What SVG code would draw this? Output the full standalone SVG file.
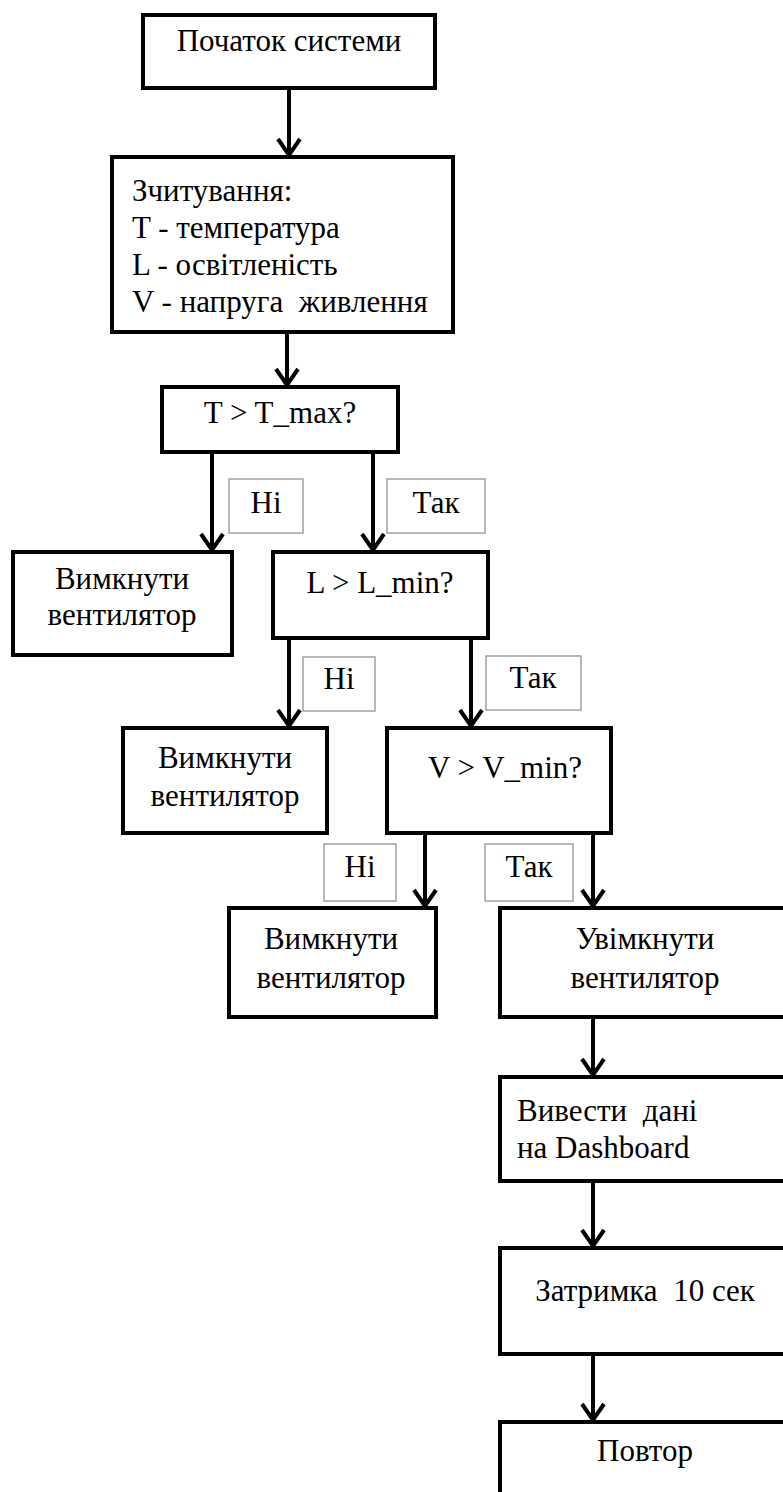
<svg xmlns="http://www.w3.org/2000/svg" width="783" height="1492" viewBox="0 0 783 1492">
<style>
.box{fill:#fff;stroke:#000;stroke-width:4}
.lbl{fill:#fff;stroke:#a0a0a0;stroke-width:1.5}
.t{font-family:'Liberation Serif',Tinos,'DejaVu Serif',serif;font-size:31px;fill:#000}
.c{text-anchor:middle}
.conn{stroke:#000;stroke-width:4;fill:none;marker-end:url(#ah)}
</style>
<defs>
<marker id="ah" markerUnits="userSpaceOnUse" viewBox="-20 -16 24 32" refX="0" refY="0" markerWidth="24" markerHeight="32" orient="auto">
<path d="M-16,-11 L0,0 L-16,11" fill="none" stroke="#000" stroke-width="4"/>
</marker>
</defs>
<rect width="783" height="1492" fill="#fff"/>
<g id="connectors">
<line class="conn" x1="289" y1="88" x2="289" y2="155"/>
<line class="conn" x1="287" y1="332" x2="287" y2="385"/>
<line class="conn" x1="212" y1="452" x2="212" y2="550"/>
<line class="conn" x1="373" y1="452" x2="373" y2="550"/>
<line class="conn" x1="289" y1="638" x2="289" y2="726"/>
<line class="conn" x1="471" y1="638" x2="471" y2="726"/>
<line class="conn" x1="425" y1="833" x2="425" y2="906"/>
<line class="conn" x1="593" y1="833" x2="593" y2="906"/>
<line class="conn" x1="593" y1="1017" x2="593" y2="1075"/>
<line class="conn" x1="593" y1="1181" x2="593" y2="1246"/>
<line class="conn" x1="593" y1="1354" x2="593" y2="1420"/>
</g>
<g id="lbl1"><rect class="lbl" x="229" y="479" width="74" height="54"/><text class="t c" x="266" y="513">Ні</text></g>
<g id="lbl2"><rect class="lbl" x="387" y="479" width="98" height="54"/><text class="t c" x="436" y="513">Так</text></g>
<g id="lbl3"><rect class="lbl" x="303" y="657" width="72" height="54"/><text class="t c" x="339" y="689">Ні</text></g>
<g id="lbl4"><rect class="lbl" x="486" y="656" width="95" height="54"/><text class="t c" x="533" y="688">Так</text></g>
<g id="lbl5"><rect class="lbl" x="324" y="844" width="72" height="57"/><text class="t c" x="360" y="877">Ні</text></g>
<g id="lbl6"><rect class="lbl" x="485" y="844" width="88" height="57"/><text class="t c" x="529" y="877">Так</text></g>
<g id="start"><rect class="box" x="143" y="15" width="292" height="73"/><text class="t c" x="289" y="51">Початок системи</text></g>
<g id="read"><rect class="box" x="112" y="157" width="341" height="175"/>
<text class="t" x="132" y="201">Зчитування:</text>
<text class="t" x="132" y="238">T - температура</text>
<text class="t" x="132" y="275">L - освітленість</text>
<text class="t" x="132" y="312" xml:space="preserve">V - напруга  живлення</text></g>
<g id="condT"><rect class="box" x="162" y="387" width="236" height="65"/><text class="t c" x="280" y="423">T &gt; T_max?</text></g>
<g id="off1"><rect class="box" x="13" y="552" width="219" height="103"/><text class="t c" x="122" y="589">Вимкнути</text><text class="t c" x="122" y="625">вентилятор</text></g>
<g id="condL"><rect class="box" x="273" y="552" width="215" height="86"/><text class="t c" x="380" y="593">L &gt; L_min?</text></g>
<g id="off2"><rect class="box" x="123" y="728" width="204" height="105"/><text class="t c" x="225" y="768">Вимкнути</text><text class="t c" x="225" y="806">вентилятор</text></g>
<g id="condV"><rect class="box" x="387" y="728" width="224" height="105"/><text class="t c" x="505" y="778">V &gt; V_min?</text></g>
<g id="off3"><rect class="box" x="229" y="908" width="207" height="109"/><text class="t c" x="331" y="949">Вимкнути</text><text class="t c" x="331" y="988">вентилятор</text></g>
<g id="on"><rect class="box" x="500" y="908" width="300" height="109"/><text class="t c" x="645" y="949">Увімкнути</text><text class="t c" x="645" y="988">вентилятор</text></g>
<g id="dash"><rect class="box" x="500" y="1077" width="300" height="104"/><text class="t" x="517" y="1121" xml:space="preserve">Вивести  дані</text><text class="t" x="517" y="1158">на Dashboard</text></g>
<g id="delay"><rect class="box" x="500" y="1248" width="300" height="106"/><text class="t c" x="645" y="1301" xml:space="preserve">Затримка  10 сек</text></g>
<g id="repeat"><rect class="box" x="500" y="1422" width="300" height="100"/><text class="t c" x="645" y="1461">Повтор</text></g>
</svg>
